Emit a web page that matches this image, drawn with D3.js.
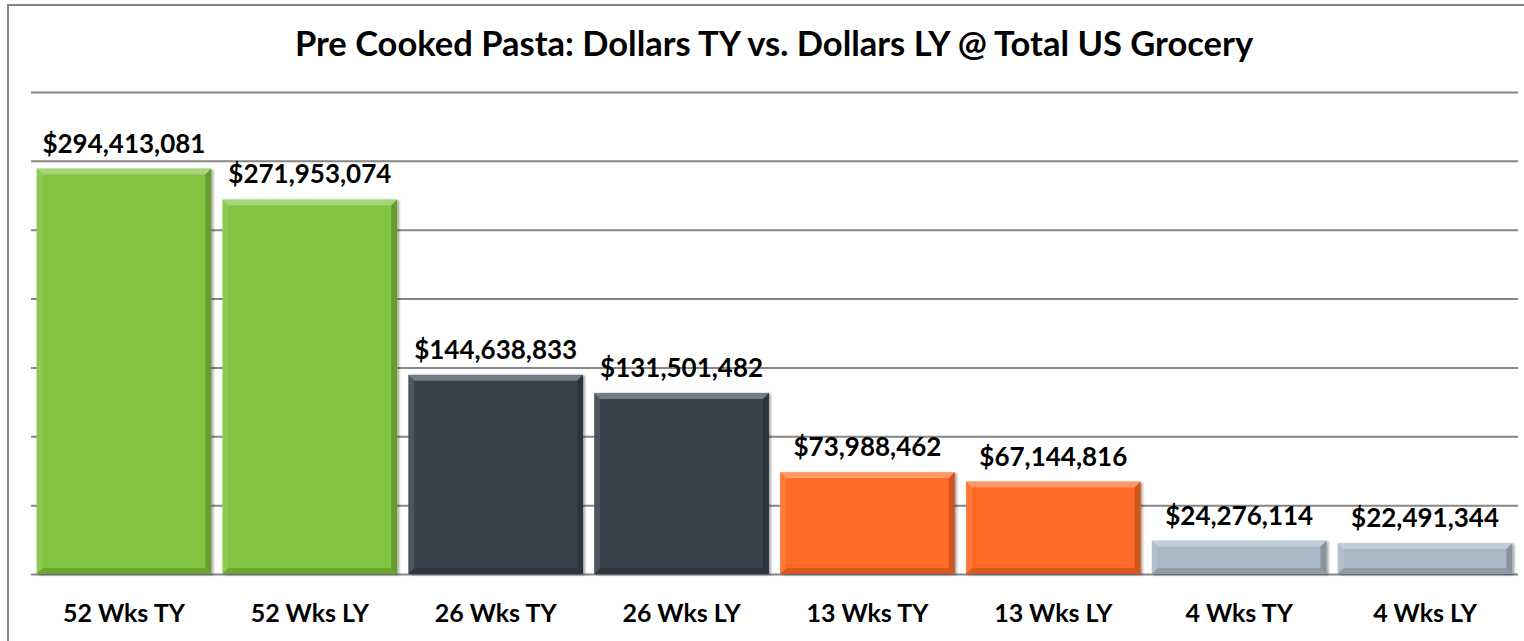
<!DOCTYPE html>
<html>
<head>
<meta charset="utf-8">
<script src="https://cdn.jsdelivr.net/npm/d3@7"></script>
<style>
  html, body { margin: 0; padding: 0; background: #ffffff; }
  svg { display: block; }
  text { font-family: Lato, "Open Sans", sans-serif; font-weight: 700; fill: #000; }
</style>
</head>
<body>
<svg id="chart" width="1524" height="641"></svg>
<script>
// Pre-cooked pasta dollar sales, this year vs. last year, by period
const categories = ["52 Wks TY", "52 Wks LY", "26 Wks TY", "26 Wks LY", "13 Wks TY", "13 Wks LY", "4 Wks TY", "4 Wks LY"];
const dollars = [294413081, 271953074, 144638833, 131501482, 73988462, 67144816, 24276114, 22491344];
const periods = ["52", "52", "26", "26", "13", "13", "4", "4"];
const periodColors = { "52": "#82C341", "26": "#37434E", "13": "#FF6A27", "4": "#A8B8C6" };
const gridTicks = [0, 50e6, 100e6, 150e6, 200e6, 250e6, 300e6, 350e6];
const titleText = "Pre Cooked Pasta: Dollars TY vs. Dollars LY @ Total US Grocery";

const svg = d3.select("#chart");
const W = 1524, H = 641;
const plot = { left: 31, right: 1518, top: 92, bottom: 574 };

// outer frame (runs off the right and bottom edges)
svg.append("rect")
  .attr("x", 8).attr("y", 5)
  .attr("width", W + 20).attr("height", H + 20)
  .attr("fill", "none").attr("stroke", "#868686").attr("stroke-width", 2);

svg.append("text")
  .attr("x", 774).attr("y", 56)
  .attr("text-anchor", "middle")
  .style("font-size", "34.5px")
  .text(titleText);

const x = d3.scaleBand().domain(categories).range([plot.left, plot.right]).paddingInner(0.06).paddingOuter(0.03);
const y = d3.scaleLinear().domain([0, 350e6]).range([plot.bottom, plot.top]);

// horizontal gridlines
const gridAxis = d3.axisLeft(y).tickValues(gridTicks).tickSize(-(plot.right - plot.left)).tickFormat("");
const g = svg.append("g").attr("transform", `translate(${plot.left},0)`).call(gridAxis);
g.select(".domain").remove();
g.selectAll(".tick line").attr("stroke", "#868686").attr("stroke-width", 2);

const defs = svg.append("defs");
const shadow = defs.append("filter").attr("id", "shadow").attr("x", "-5%").attr("y", "-5%").attr("width", "115%").attr("height", "115%");
shadow.append("feDropShadow").attr("dx", 2).attr("dy", 1).attr("stdDeviation", 1.2).attr("flood-color", "#000").attr("flood-opacity", 0.35);

const bev = 6;
const bars = svg.append("g").selectAll("g.bar")
  .data(categories.map((c, i) => ({ c, v: dollars[i], p: periods[i] })))
  .join("g").attr("class", "bar");

bars.each(function (d) {
  const gb = d3.select(this);
  const x0 = x(d.c), x1 = x0 + x.bandwidth();
  const y0 = y(d.v), y1 = y(0);
  const col = periodColors[d.p];
  gb.append("rect")
    .attr("x", x0).attr("y", y0).attr("width", x1 - x0).attr("height", y1 - y0)
    .attr("fill", col).attr("filter", "url(#shadow)");
  const b = Math.min(bev, (y1 - y0) / 2);
  const faces = [
    { pts: [[x0, y0], [x1, y0], [x1 - b, y0 + b], [x0 + b, y0 + b]], fill: "#fff", op: 0.3 },
    { pts: [[x0, y0], [x0 + b, y0 + b], [x0 + b, y1 - b], [x0, y1]], fill: "#fff", op: 0.1 },
    { pts: [[x1, y0], [x1, y1], [x1 - b, y1 - b], [x1 - b, y0 + b]], fill: "#000", op: 0.2 },
    { pts: [[x0, y1], [x0 + b, y1 - b], [x1 - b, y1 - b], [x1, y1]], fill: "#000", op: 0.15 }
  ];
  faces.forEach(f => gb.append("path")
    .attr("d", d3.line()(f.pts) + "Z")
    .attr("fill", f.fill).attr("fill-opacity", f.op));
});

// value labels
svg.append("g").selectAll("text")
  .data(categories.map((c, i) => ({ c, v: dollars[i] })))
  .join("text")
  .attr("x", d => x(d.c) + x.bandwidth() / 2)
  .attr("y", d => y(d.v) - 16)
  .attr("text-anchor", "middle")
  .style("font-size", "26px")
  .text(d => "$" + d3.format(",")(d.v));

// category labels
svg.append("g").selectAll("text")
  .data(categories)
  .join("text")
  .attr("x", d => x(d) + x.bandwidth() / 2)
  .attr("y", 622)
  .attr("text-anchor", "middle")
  .style("font-size", "25px")
  .text(d => d);
</script>
</body>
</html>
